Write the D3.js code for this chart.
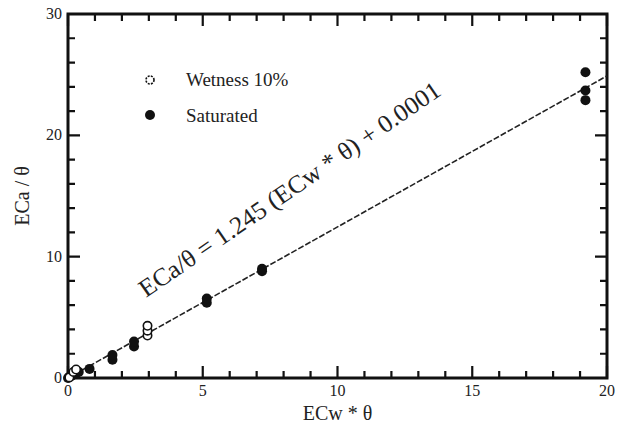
<!DOCTYPE html>
<html lang="en">
<head>
<meta charset="UTF-8">
<title>ECa chart</title>
<script src="https://d3js.org/d3.v7.min.js"></script>
<style>
  body { margin: 0; background: #fff; }
  #chart { position: relative; width: 619px; height: 427px; }
  #chart svg { position: absolute; left: 0; top: 0; }
  svg text { font-family: "Liberation Serif", serif; fill: #222; }
</style>
</head>
<body>
<div id="chart"></div>
<script>
// data
const saturatedX = [0, 0.05, 0.1, 0.15, 0.2, 0.3, 0.4, 0.8, 1.65, 1.65, 2.45, 2.45, 5.15, 5.15, 7.2, 7.2, 19.2, 19.2, 19.2];
const saturatedY = [0, 0.1, 0.15, 0.2, 0.3, 0.4, 0.5, 0.75, 1.5, 1.9, 2.6, 3.0, 6.2, 6.55, 8.8, 9.0, 25.2, 23.7, 22.9];
const wetX = [0.05, 0.2, 0.3, 2.95, 2.95, 2.95];
const wetY = [0.05, 0.5, 0.7, 3.5, 3.9, 4.3];
const fitSlope = 1.245, fitIntercept = 0.0001;
const xTicks = [0, 5, 10, 15, 20];
const yTicks = [0, 10, 20, 30];
const legendNames = ["Wetness 10%", "Saturated"];

const W = 619, H = 427;
const m = { left: 68, right: 12, top: 14, bottom: 49 };
const iw = W - m.left - m.right, ih = H - m.top - m.bottom;

const x = d3.scaleLinear().domain([0, 20]).range([0, iw]);
const y = d3.scaleLinear().domain([0, 30]).range([ih, 0]);

// frame layer (own svg)
const fsvg = d3.select("#chart").append("svg").attr("width", W).attr("height", H);
const fg = fsvg.append("g").attr("transform", `translate(${m.left},${m.top})`);
fg.append("path").attr("d", `M0,0H${iw}V${ih}H0Z`)
  .attr("fill", "none").attr("stroke", "#111").attr("stroke-width", 3);
d3.range(0, 21, 1).forEach(v => {
  const len = v % 5 === 0 ? 12 : 7;
  fg.append("path").attr("d", `M${x(v)},${ih}V${ih - len}M${x(v)},0V${len}`)
    .attr("stroke", "#111").attr("stroke-width", 2.2);
});
d3.range(0, 31, 2).forEach(v => {
  const len = v % 10 === 0 ? 12 : 7;
  fg.append("path").attr("d", `M0,${y(v)}H${len}M${iw},${y(v)}H${iw - len}`)
    .attr("stroke", "#111").attr("stroke-width", 2.2);
});

// marks layer
const svg = d3.select("#chart").append("svg").attr("width", W).attr("height", H);
const g = svg.append("g").attr("transform", `translate(${m.left},${m.top})`);

// tick labels
g.selectAll("text.xt").data(xTicks).enter().append("text").attr("class", "xt")
  .attr("x", d => x(d)).attr("y", ih + 18).attr("text-anchor", "middle")
  .style("font-size", "16px").text(d => d);
g.selectAll("text.yt").data(yTicks).enter().append("text").attr("class", "yt")
  .attr("x", -6).attr("y", d => y(d) + 5).attr("text-anchor", "end")
  .style("font-size", "16px").text(d => d);

// fit line
g.append("path")
  .attr("d", d3.line()([[x(0), y(fitIntercept)], [x(20), y(fitSlope * 20 + fitIntercept)]]))
  .attr("fill", "none").attr("stroke", "#222").attr("stroke-width", 1.6).attr("stroke-dasharray", "6,2");

// points
const sat = saturatedX.map((v, i) => [v, saturatedY[i]]);
const wet = wetX.map((v, i) => [v, wetY[i]]);
g.selectAll("circle.sat").data(sat).enter().append("circle")
  .attr("class", "sat").attr("cx", d => x(d[0])).attr("cy", d => y(d[1])).attr("r", 5)
  .attr("fill", "#111");
g.selectAll("circle.wet").data(wet).enter().append("circle")
  .attr("class", "wet").attr("cx", d => x(d[0])).attr("cy", d => y(d[1])).attr("r", 4.2)
  .attr("fill", "#fff").attr("stroke", "#111").attr("stroke-width", 1.6);

// legend
svg.append("circle").attr("cx", 150).attr("cy", 80).attr("r", 4)
  .attr("fill", "#fff").attr("stroke", "#111").attr("stroke-width", 1.6).attr("stroke-dasharray", "2,1.2");
svg.append("circle").attr("cx", 150).attr("cy", 115).attr("r", 5).attr("fill", "#111");
svg.append("text").attr("x", 186).attr("y", 86).style("font-size", "19px").text(legendNames[0]);
svg.append("text").attr("x", 186).attr("y", 122).style("font-size", "19px").text(legendNames[1]);

// equation
svg.append("text")
  .attr("transform", "translate(146,298) rotate(-34.5)")
  .style("font-size", "25px")
  .attr("textLength", 360).attr("lengthAdjust", "spacingAndGlyphs")
  .text("ECa/\u03B8 = 1.245 (ECw * \u03B8) + 0.0001");

// axis titles
svg.append("text").attr("x", m.left + iw / 2).attr("y", 420)
  .attr("text-anchor", "middle").style("font-size", "20px").text("ECw * \u03B8");
svg.append("text").attr("transform", `translate(29,${m.top + ih / 2}) rotate(-90)`)
  .attr("text-anchor", "middle").style("font-size", "20px").text("ECa / \u03B8");
</script>
</body>
</html>
